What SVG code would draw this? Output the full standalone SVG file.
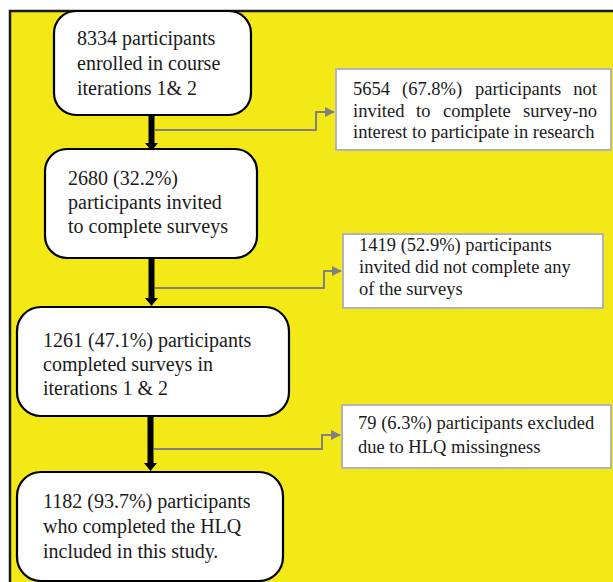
<svg xmlns="http://www.w3.org/2000/svg" width="613" height="582" viewBox="0 0 613 582">
<defs>
<style>
.main rect{fill:#fff;stroke:#000;stroke-width:2.2}
.side rect{fill:#fff;stroke:#b4b4b4;stroke-width:2}
text{font-family:"Liberation Serif","Times New Roman",serif;fill:#1a1a1a}
.main text{font-size:20px}
.side text{font-size:18.5px}
.shaft{stroke:#000;stroke-width:6;fill:none}
.branch{stroke:#808080;stroke-width:2;fill:none}
</style>
<marker id="grayhead" markerWidth="10" markerHeight="10" refX="9" refY="5" orient="auto" markerUnits="userSpaceOnUse">
<path d="M0,0 L10,5 L0,10 Z" fill="#808080"/>
</marker>
</defs>
<rect x="0" y="0" width="613" height="582" fill="#fff"/>
<rect x="10" y="11" width="605" height="575" fill="#f2e917" stroke="#1a1a1a" stroke-width="2.5"/>

<g id="connectors">
<line class="shaft" x1="151.5" y1="115" x2="151.5" y2="144"/>
<path d="M145,143 L158,143 L151.5,151 Z" fill="#000"/>
<line class="shaft" x1="151.5" y1="258" x2="151.5" y2="299"/>
<path d="M145,298 L158,298 L151.5,306 Z" fill="#000"/>
<line class="shaft" x1="150.5" y1="416" x2="150.5" y2="464"/>
<path d="M144,463 L157,463 L150.5,471 Z" fill="#000"/>
<path class="branch" d="M155,130 H316 V112 H334" marker-end="url(#grayhead)"/>
<path class="branch" d="M155,288 H324 V271 H341" marker-end="url(#grayhead)"/>
<path class="branch" d="M154,449 H322 V435 H340" marker-end="url(#grayhead)"/>
</g>

<g id="n1" class="main">
<rect x="54" y="11" width="197" height="104" rx="22"/>
<text x="77" y="45">8334 participants</text>
<text x="77" y="70">enrolled in course</text>
<text x="77" y="95">iterations 1&amp; 2</text>
</g>

<g id="s1" class="side">
<rect x="336" y="69" width="275" height="81"/>
<text y="95"><tspan x="353">5654</tspan><tspan x="402">(67.8%)</tspan><tspan x="475">participants</tspan></text>
<text x="597" y="95" text-anchor="end">not</text>
<text y="117"><tspan x="353">invited</tspan><tspan x="416">to</tspan><tspan x="443">complete</tspan></text>
<text x="597" y="117" text-anchor="end">survey-no</text>
<text x="353" y="138">interest to participate in research</text>
</g>

<g id="n2" class="main">
<rect x="45" y="149" width="212" height="109" rx="22"/>
<text x="68" y="185">2680 (32.2%)</text>
<text x="68" y="209">participants invited</text>
<text x="68" y="233">to complete surveys</text>
</g>

<g id="s2" class="side">
<rect x="343" y="234" width="260" height="74"/>
<text x="359" y="251">1419 (52.9%) participants</text>
<text x="359" y="273">invited did not complete any</text>
<text x="359" y="295">of the surveys</text>
</g>

<g id="n3" class="main">
<rect x="17" y="307" width="272" height="109" rx="24"/>
<text x="43" y="347">1261 (47.1%) participants</text>
<text x="43" y="371">completed surveys in</text>
<text x="43" y="395">iterations 1 &amp; 2</text>
</g>

<g id="s3" class="side">
<rect x="342" y="405" width="269" height="63"/>
<text x="358" y="429">79 (6.3%) participants excluded</text>
<text x="358" y="453">due to HLQ missingness</text>
</g>

<g id="n4" class="main">
<rect x="17" y="472" width="266" height="109" rx="24"/>
<text x="43" y="508">1182 (93.7%) participants</text>
<text x="43" y="533">who completed the HLQ</text>
<text x="43" y="558">included in this study.</text>
</g>
</svg>
